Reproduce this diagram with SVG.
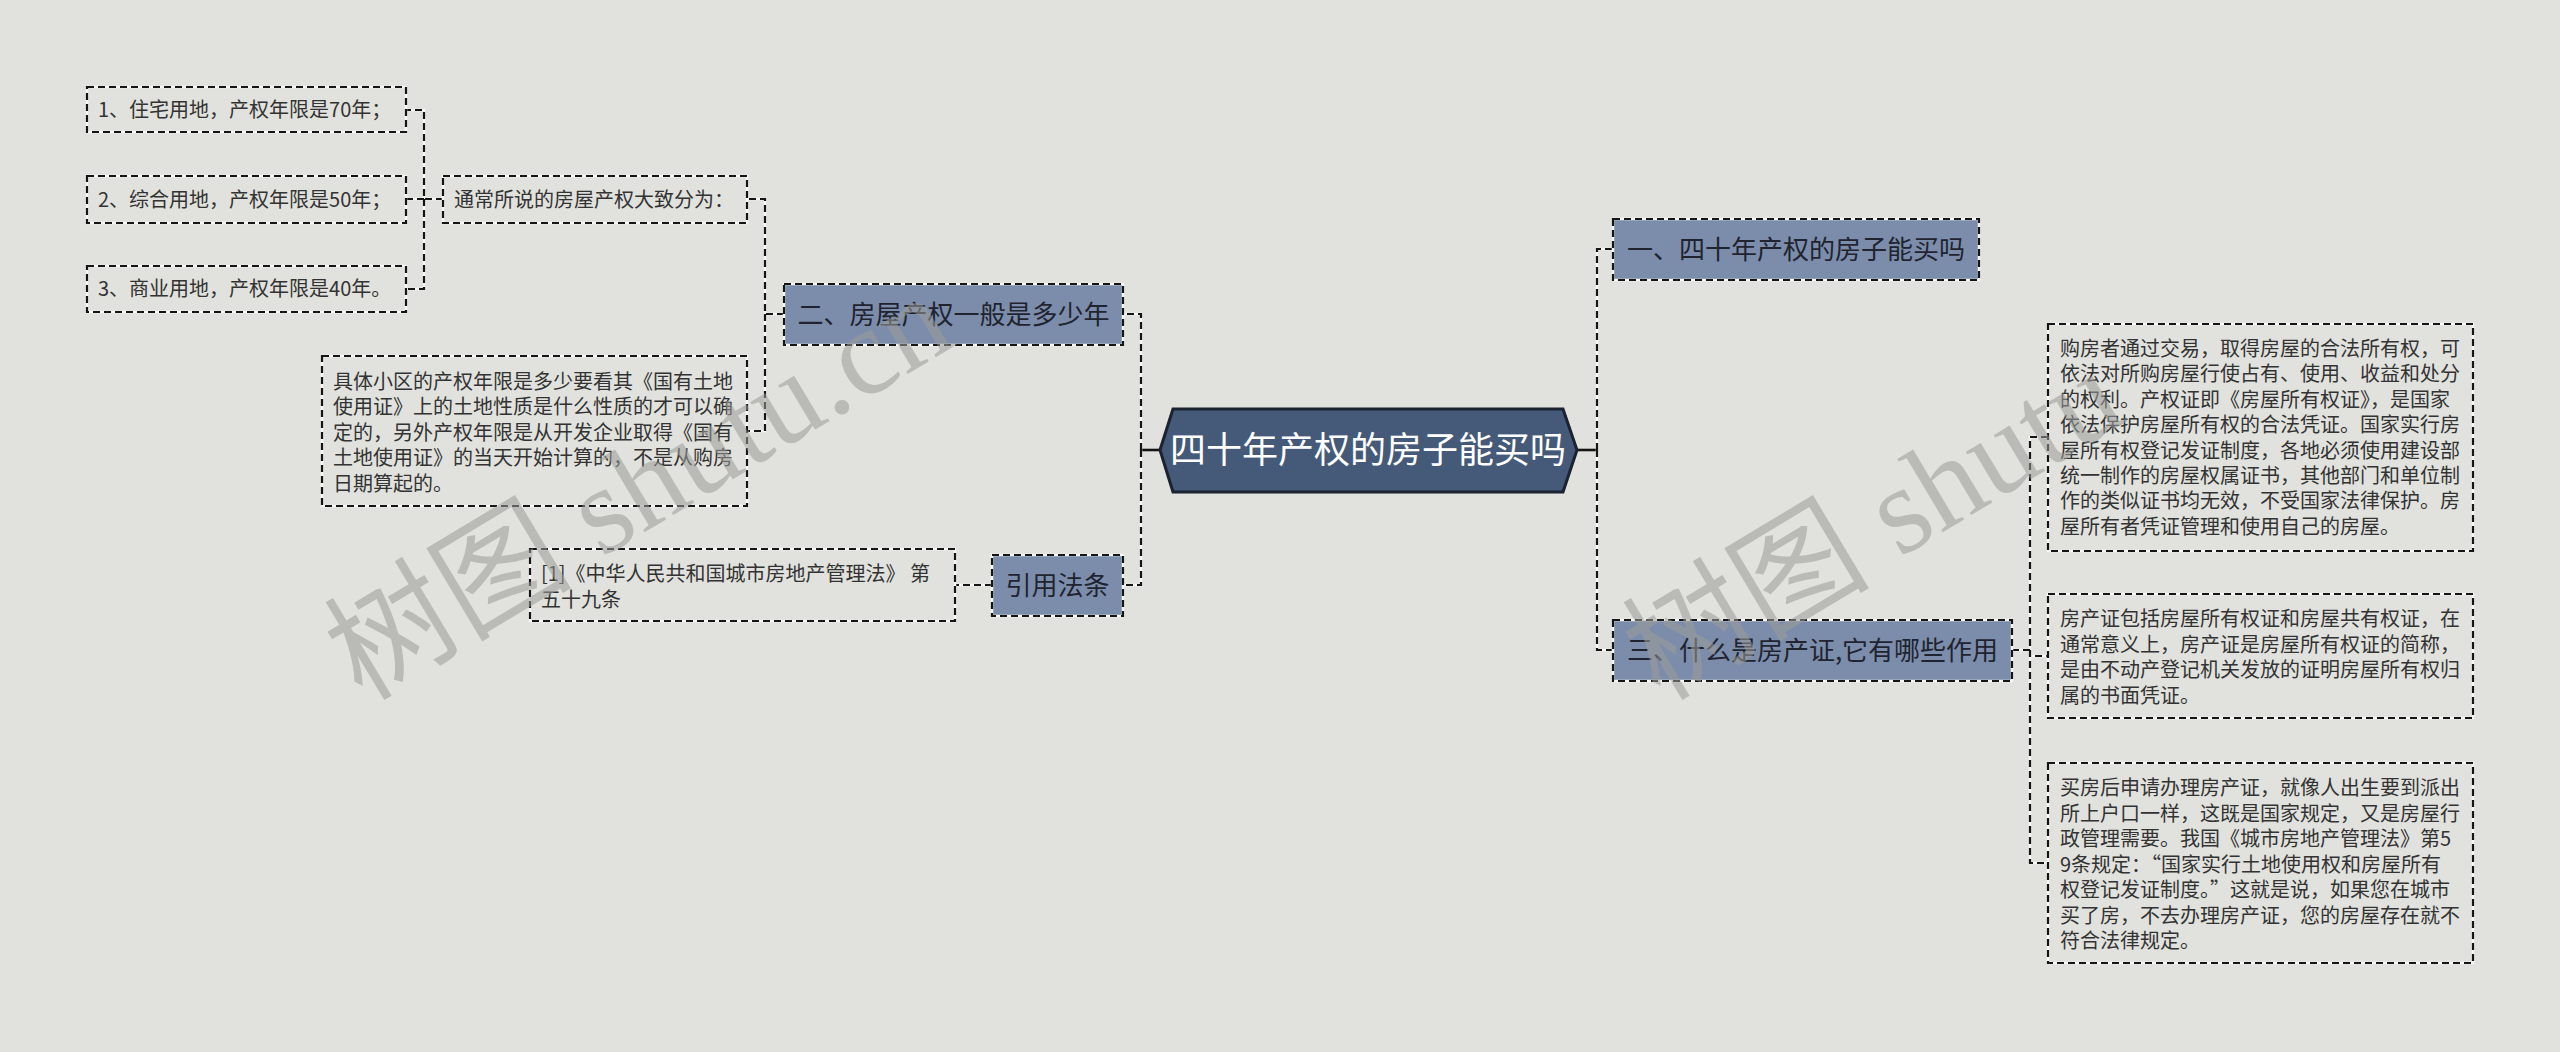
<svg xmlns="http://www.w3.org/2000/svg" width="2560" height="1052" viewBox="0 0 2560 1052">
<style>
.bg{fill:#e1e2dd}
.u{fill:none;stroke:#f7f7f5;stroke-width:2.5}
.d{fill:none;stroke:#151515;stroke-width:2.2;stroke-dasharray:7 4}
.sec{fill:#7b8dab}
.leaf{fill:none}
.solid{fill:none;stroke:#151515;stroke-width:2.6}
text{font-family:"Noto Sans CJK SC","Noto Sans",sans-serif}
.t20{font-size:20px;fill:#333}
.t26{font-size:26px;fill:#1f2430;text-anchor:middle}
.t37{font-size:36px;fill:#ffffff;text-anchor:middle}
.wm{font-family:"Liberation Serif","Noto Sans CJK SC",serif;font-size:124px;fill:#9c9d99;opacity:.55}
</style>
<rect class="bg" x="0" y="0" width="2560" height="1052"/>

<g id="connectors">
<path class="solid" d="M1160,450 H1141"/>
<path class="solid" d="M1577,450 H1597"/>
<g class="u">
<path d="M1141,450 V314 H1123 M1141,450 V585 H1123"/>
<path d="M784,314 H765 V199 H747 M765,314 V431 H747"/>
<path d="M443,199 H424 V110 H406 M424,199 H406 M424,199 V289 H406"/>
<path d="M992,585 H955"/>
<path d="M1597,450 V249 H1613 M1597,450 V650 H1613"/>
<path d="M2012,650 H2030 V437 H2048 M2030,650 V656 H2048 M2030,650 V863 H2048"/>
</g>
<g class="d">
<path d="M1141,450 V314 H1123 M1141,450 V585 H1123"/>
<path d="M784,314 H765 V199 H747 M765,314 V431 H747"/>
<path d="M443,199 H424 V110 H406 M424,199 H406 M424,199 V289 H406"/>
<path d="M992,585 H955"/>
<path d="M1597,450 V249 H1613 M1597,450 V650 H1613"/>
<path d="M2012,650 H2030 V437 H2048 M2030,650 V656 H2048 M2030,650 V863 H2048"/>
</g>
</g>

<g id="root">
<polygon points="1160,450 1173,409 1563,409 1577,450 1563,492 1173,492" fill="#455a79" stroke="#1b2230" stroke-width="3"/>
<text class="t37" x="1368" y="463">四十年产权的房子能买吗</text>
</g>

<g id="n-er">
<rect class="sec" x="784" y="284" width="339" height="61"/>
<rect class="u" x="784" y="284" width="339" height="61"/><rect class="d" x="784" y="284" width="339" height="61"/>
<text class="t26" x="953.5" y="324">二、房屋产权一般是多少年</text>
</g>

<g id="n-yinyong">
<rect class="sec" x="992" y="555" width="131" height="61"/>
<rect class="u" x="992" y="555" width="131" height="61"/><rect class="d" x="992" y="555" width="131" height="61"/>
<text class="t26" x="1057.5" y="595">引用法条</text>
</g>

<g id="n-yi">
<rect class="sec" x="1613" y="219" width="366" height="61"/>
<rect class="u" x="1613" y="219" width="366" height="61"/><rect class="d" x="1613" y="219" width="366" height="61"/>
<text class="t26" x="1796" y="259">一、四十年产权的房子能买吗</text>
</g>

<g id="n-san">
<rect class="sec" x="1613" y="620" width="399" height="61"/>
<rect class="u" x="1613" y="620" width="399" height="61"/><rect class="d" x="1613" y="620" width="399" height="61"/>
<text class="t26" x="1812.5" y="660">三、什么是房产证,它有哪些作用</text>
</g>

<g id="n-tongchang">
<rect class="u" x="443" y="176" width="304" height="47"/><rect class="d" x="443" y="176" width="304" height="47"/>
<text class="t20" x="454" y="207">通常所说的房屋产权大致分为：</text>
</g>

<g id="n-l1">
<rect class="u" x="87" y="87" width="319" height="45"/><rect class="d" x="87" y="87" width="319" height="45"/>
<text class="t20" x="98" y="117">1、住宅用地，产权年限是70年；</text>
</g>
<g id="n-l2">
<rect class="u" x="87" y="176" width="319" height="47"/><rect class="d" x="87" y="176" width="319" height="47"/>
<text class="t20" x="98" y="207">2、综合用地，产权年限是50年；</text>
</g>
<g id="n-l3">
<rect class="u" x="87" y="266" width="319" height="46"/><rect class="d" x="87" y="266" width="319" height="46"/>
<text class="t20" x="98" y="296">3、商业用地，产权年限是40年。</text>
</g>

<g id="n-juti">
<rect class="u" x="322" y="356" width="425" height="150"/><rect class="d" x="322" y="356" width="425" height="150"/>
<text class="t20">
<tspan x="333" y="389">具体小区的产权年限是多少要看其《国有土地</tspan>
<tspan x="333" y="414">使用证》上的土地性质是什么性质的才可以确</tspan>
<tspan x="333" y="440">定的，另外产权年限是从开发企业取得《国有</tspan>
<tspan x="333" y="465">土地使用证》的当天开始计算的，不是从购房</tspan>
<tspan x="333" y="491">日期算起的。</tspan>
</text>
</g>

<g id="n-law">
<rect class="u" x="530" y="549" width="425" height="72"/><rect class="d" x="530" y="549" width="425" height="72"/>
<text class="t20">
<tspan x="541" y="581">[1]《中华人民共和国城市房地产管理法》 第</tspan>
<tspan x="541" y="607">五十九条</tspan>
</text>
</g>

<g id="n-r1">
<rect class="u" x="2048" y="324" width="425" height="227"/><rect class="d" x="2048" y="324" width="425" height="227"/>
<text class="t20">
<tspan x="2060" y="356">购房者通过交易，取得房屋的合法所有权，可</tspan>
<tspan x="2060" y="381.4">依法对所购房屋行使占有、使用、收益和处分</tspan>
<tspan x="2060" y="406.8">的权利。产权证即《房屋所有权证》，是国家</tspan>
<tspan x="2060" y="432.2">依法保护房屋所有权的合法凭证。国家实行房</tspan>
<tspan x="2060" y="457.6">屋所有权登记发证制度，各地必须使用建设部</tspan>
<tspan x="2060" y="483">统一制作的房屋权属证书，其他部门和单位制</tspan>
<tspan x="2060" y="508.4">作的类似证书均无效，不受国家法律保护。房</tspan>
<tspan x="2060" y="533.8">屋所有者凭证管理和使用自己的房屋。</tspan>
</text>
</g>

<g id="n-r2">
<rect class="u" x="2048" y="594" width="425" height="124"/><rect class="d" x="2048" y="594" width="425" height="124"/>
<text class="t20">
<tspan x="2060" y="626">房产证包括房屋所有权证和房屋共有权证，在</tspan>
<tspan x="2060" y="651.5">通常意义上，房产证是房屋所有权证的简称，</tspan>
<tspan x="2060" y="677">是由不动产登记机关发放的证明房屋所有权归</tspan>
<tspan x="2060" y="702.5">属的书面凭证。</tspan>
</text>
</g>

<g id="n-r3">
<rect class="u" x="2048" y="763" width="425" height="200"/><rect class="d" x="2048" y="763" width="425" height="200"/>
<text class="t20">
<tspan x="2060" y="795">买房后申请办理房产证，就像人出生要到派出</tspan>
<tspan x="2060" y="820.5">所上户口一样，这既是国家规定，又是房屋行</tspan>
<tspan x="2060" y="846">政管理需要。我国《城市房地产管理法》第5</tspan>
<tspan x="2060" y="871.5">9条规定：“国家实行土地使用权和房屋所有</tspan>
<tspan x="2060" y="897">权登记发证制度。”这就是说，如果您在城市</tspan>
<tspan x="2060" y="922.5">买了房，不去办理房产证，您的房屋存在就不</tspan>
<tspan x="2060" y="948">符合法律规定。</tspan>
</text>
</g>

<g id="watermark">
<text class="wm" transform="translate(362,702) rotate(-31)">树图 shutu.cn</text>
<text class="wm" transform="translate(1660,702) rotate(-31)">树图 shutu</text>
</g>
</svg>
